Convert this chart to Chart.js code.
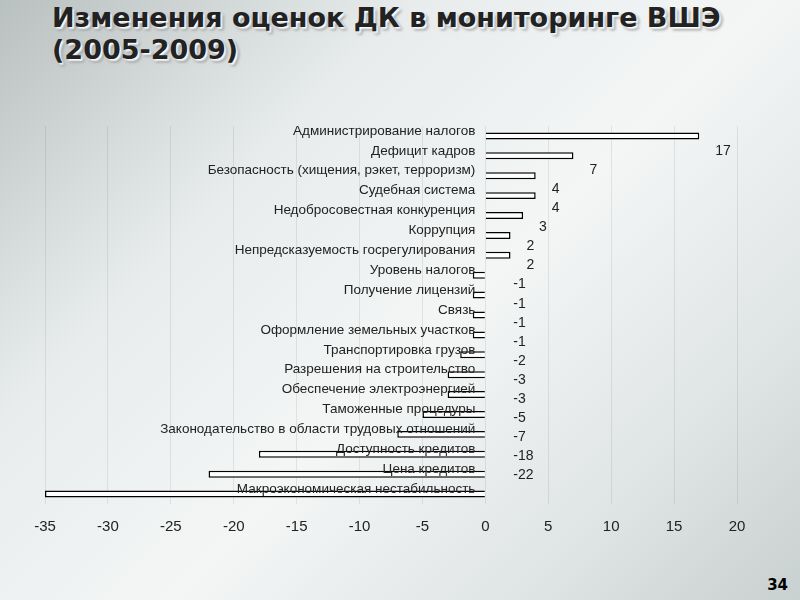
<!DOCTYPE html>
<html><head><meta charset="utf-8">
<script src="https://cdn.jsdelivr.net/npm/chart.js@4"></script>
<style>
body{margin:0;width:800px;height:600px;overflow:hidden;
background:linear-gradient(135deg,#b9c0c0 0%,#e8ecec 30%,#f4f6f6 55%,#dfe4e4 80%,#c9d0d0 100%);
font-family:"DejaVu Sans",sans-serif;position:relative}
h1{position:absolute;left:52px;top:2px;margin:0;font-size:27px;line-height:32px;color:#222;
text-shadow:2px 2px 2px #fff, 3px 3px 3px #888}
#num{position:absolute;right:12px;bottom:6px;font-weight:bold;font-size:15px}
#wrap{position:absolute;left:0;top:110px;width:800px;height:440px}
</style></head><body>
<h1>Изменения оценок ДК в мониторинге ВШЭ<br>(2005-2009)</h1>
<div id="wrap"><canvas id="c"></canvas></div>
<div id="num">34</div>
<script>
const categories = ['Администрирование налогов','Дефицит кадров','Безопасность (хищения, рэкет, терроризм)',
'Судебная система','Недобросовестная конкуренция','Коррупция','Непредсказуемость госрегулирования',
'Уровень налогов','Получение лицензий','Связь','Оформление земельных участков','Транспортировка грузов',
'Разрешения на строительство','Обеспечение электроэнергией','Таможенные процедуры',
'Законодательство в области трудовых отношений','Доступность кредитов','Цена кредитов',
'Макроэкономическая нестабильность'];
const values = [17,7,4,4,3,2,2,-1,-1,-1,-1,-2,-3,-3,-5,-7,-18,-22,-35];
const valueLabels = ['17','7','4','4','3','2','2','-1','-1','-1','-1','-2','-3','-3','-5','-7','-18','-22',''];

const labelsPlugin = {
  id: 'labels',
  afterDatasetsDraw(chart) {
    const {ctx, scales:{x, y}} = chart;
    ctx.save();
    ctx.fillStyle = '#222';
    const x0 = x.getPixelForValue(0);
    categories.forEach((c, i) => {
      const py = y.getPixelForValue(i);
      ctx.font = '13.5px "Liberation Sans"';
      ctx.textAlign = 'right';
      ctx.textBaseline = 'middle';
      ctx.fillText(c, x0 - 10, py - 5);
      ctx.textAlign = 'left';
      const off = values[i] > 0 ? 16 : 28;
      ctx.font = '14px "Liberation Sans"';
      ctx.fillText(valueLabels[i], x.getPixelForValue(Math.max(values[i], 0)) + off, py + 15 - i * 0.8);
    });
    ctx.restore();
  }
};

new Chart(document.getElementById('c'), {
  type: 'bar',
  data: { labels: categories, datasets: [{ data: values, backgroundColor: '#fff', borderColor: '#000',
    borderWidth: 1.5, barPercentage: 0.35, categoryPercentage: 1 }] },
  options: {
    indexAxis: 'y', animation: false, responsive: true, maintainAspectRatio: false,
    layout: { padding: { left: 45, right: 63, top: 16 } },
    plugins: { legend: { display: false }, tooltip: { enabled: false } },
    scales: {
      x: { min: -35, max: 20, ticks: { stepSize: 5, color: '#222', font: { size: 15, family: 'Liberation Sans' }, padding: 14 },
        grid: { color: 'rgba(0,0,0,0.08)', drawTicks: false }, border: { display: false } },
      y: { display: false }
    }
  },
  plugins: [labelsPlugin]
});
</script>
</body></html>
